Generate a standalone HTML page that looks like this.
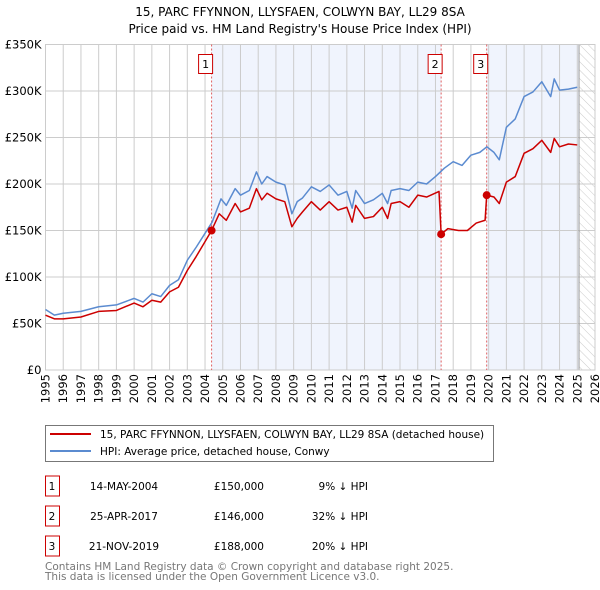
<!DOCTYPE html>
<html><head><meta charset="utf-8"><style>
body{margin:0;background:#fff;font-family:"DejaVu Sans","Liberation Sans",sans-serif;}
svg{display:block}
</style></head><body>
<svg id="c" width="600" height="590" xmlns="http://www.w3.org/2000/svg">
<defs><pattern id="hatch" width="6" height="6" patternUnits="userSpaceOnUse" patternTransform="rotate(-45)"><line x1="0" y1="0" x2="0" y2="6" stroke="#ccc" stroke-width="1"/></pattern></defs>
<text x="300" y="16" text-anchor="middle" font-size="12">15, PARC FFYNNON, LLYSFAEN, COLWYN BAY, LL29 8SA</text>
<text x="300" y="33" text-anchor="middle" font-size="12">Price paid vs. HM Land Registry's House Price Index (HPI)</text>
<g id="plot"></g>
<g>
<rect x="45.5" y="425.5" width="448" height="36" fill="#fff" stroke="#777"/>
<line x1="50" y1="434" x2="91" y2="434" stroke="#cc0000" stroke-width="2"/>
<text x="100" y="438" font-size="10.5">15, PARC FFYNNON, LLYSFAEN, COLWYN BAY, LL29 8SA (detached house)</text>
<line x1="50" y1="451" x2="91" y2="451" stroke="#5b8bd0" stroke-width="2"/>
<text x="100" y="455" font-size="10.5">HPI: Average price, detached house, Conwy</text>
</g>
<g id="tbl" font-size="10.5"></g>
<text x="45" y="570" font-size="10.5" fill="#777">Contains HM Land Registry data © Crown copyright and database right 2025.</text>
<text x="45" y="580" font-size="10.5" fill="#777">This data is licensed under the Open Government Licence v3.0.</text>
</svg>
<script>
const hpiYears=[1995,1995.5,1996,1997,1998,1999,2000,2000.5,2001,2001.5,2002,2002.5,2003,2003.5,2004,2004.4,2004.9,2005.2,2005.7,2006,2006.5,2006.9,2007.2,2007.5,2008,2008.5,2008.9,2009.2,2009.5,2010,2010.5,2011,2011.5,2012,2012.3,2012.5,2013,2013.5,2014,2014.3,2014.5,2015,2015.5,2016,2016.5,2017,2017.5,2018,2018.5,2019,2019.5,2019.9,2020.3,2020.6,2021,2021.5,2022,2022.5,2023,2023.5,2023.7,2024,2024.5,2025];
const hpiValues=[65,59,61,63,68,70,77,73,82,79,91,97,118,132,147,159,184,177,195,188,193,213,200,208,202,199,168,181,185,197,192,199,188,192,174,193,179,183,190,179,193,195,193,202,200,208,217,224,220,231,234,240,234,226,261,270,294,299,310,294,313,301,302,304];
const priceYears=[1995,1995.5,1996,1997,1998,1999,2000,2000.5,2001,2001.5,2002,2002.5,2003,2003.5,2004,2004.37,2004.8,2005.2,2005.7,2006,2006.5,2006.9,2007.2,2007.5,2008,2008.5,2008.9,2009.2,2009.5,2010,2010.5,2011,2011.5,2012,2012.3,2012.5,2013,2013.5,2014,2014.3,2014.5,2015,2015.5,2016,2016.5,2017.2,2017.32,2017.7,2018.3,2018.8,2019.3,2019.8,2019.89,2020.3,2020.6,2021,2021.5,2022,2022.5,2023,2023.5,2023.7,2024,2024.5,2025];
const priceValues=[59,55,55,57,63,64,72,68,75,73,84,89,107,122,138,150,168,161,179,170,174,195,183,190,184,181,154,163,170,181,172,181,172,175,159,177,163,165,175,163,179,181,175,188,186,192,146,152,150,150,158,161,188,186,179,202,208,233,238,247,234,249,240,243,242];
const saleYears=[2004.37,2017.32,2019.89];
const saleValues=[150,146,188];
const saleLabels=["1","2","3"];
const saleDates=["14-MAY-2004","25-APR-2017","21-NOV-2019"];
const salePrices=["£150,000","£146,000","£188,000"];
const saleDiffs=["9% ↓ HPI","32% ↓ HPI","20% ↓ HPI"];
const yTicks=[0,50,100,150,200,250,300,350];
const yTickLabels=["£0","£50K","£100K","£150K","£200K","£250K","£300K","£350K"];
const xTicks=[1995,1996,1997,1998,1999,2000,2001,2002,2003,2004,2005,2006,2007,2008,2009,2010,2011,2012,2013,2014,2015,2016,2017,2018,2019,2020,2021,2022,2023,2024,2025,2026];
const dataEnd=2025.1;

const L=45.5,R=595,T=44.5,B=370;
const X=y=>L+(y-1995)/(2026-1995)*(R-L);
const Y=v=>B-v/350*(B-T);
const NS="http://www.w3.org/2000/svg";
const g=document.getElementById('plot');
function mk(tag,attrs,parent){const e=document.createElementNS(NS,tag);for(const k in attrs)e.setAttribute(k,attrs[k]);(parent||g).appendChild(e);return e;}

let e=mk('rect',{x:L,y:T,width:R-L,height:B-T,fill:'#fff'});


e=mk('rect',{x:X(saleYears[0]),y:T,width:X(saleYears[1])-X(saleYears[0]),height:B-T,fill:'#f0f4fd'});


e=mk('rect',{x:X(saleYears[2]),y:T,width:X(dataEnd)-X(saleYears[2]),height:B-T,fill:'#f0f4fd'});


e=mk('rect',{x:X(dataEnd),y:T,width:R-X(dataEnd),height:B-T,fill:'url(#hatch)'});



yTicks.forEach((v,i)=>{
 let l=mk('line',{x1:L,x2:R,y1:Y(v),y2:Y(v),stroke:'#ccc','stroke-width':1});
 
 
 let t=mk('text',{x:L-4,y:Y(v)+4,'text-anchor':'end','font-size':'11.5'});
 t.textContent=yTickLabels[i];
 
 
});
xTicks.forEach(yr=>{
 let l=mk('line',{x1:X(yr),x2:X(yr),y1:T,y2:B,stroke:'#ccc','stroke-width':1});
 
 
 let t=mk('text',{x:0,y:0,'font-size':'11.5','text-anchor':'end',transform:`translate(${X(yr)+4},${B+4}) rotate(-90)`});
 t.textContent=yr;
 
 
});
e=mk('line',{x1:X(dataEnd),x2:X(dataEnd),y1:T,y2:B,stroke:'#999','stroke-width':1});


e=mk('rect',{x:L,y:T,width:R-L,height:B-T,fill:'none',stroke:'#ccc'});



saleYears.forEach((yr,i)=>{
 let l=mk('line',{x1:X(yr),x2:X(yr),y1:T,y2:B,stroke:'#e06060','stroke-width':1,'stroke-dasharray':'2,2'});
 
 
 let r=mk('rect',{x:X(yr)-13,y:54.5,width:14,height:19,fill:'#fff',stroke:'#cc0000'});
 
 
 let t=mk('text',{x:X(yr)-6,y:68,'text-anchor':'middle','font-size':'11'});
 t.textContent=saleLabels[i];
 
 
});

e=mk('polyline',{points:hpiYears.map((y,i)=>X(y)+','+Y(hpiValues[i])).join(' '),fill:'none',stroke:'#5b8bd0','stroke-width':1.5,'stroke-linejoin':'round'});


e=mk('polyline',{points:priceYears.map((y,i)=>X(y)+','+Y(priceValues[i])).join(' '),fill:'none',stroke:'#cc0000','stroke-width':1.5,'stroke-linejoin':'round'});


saleYears.forEach((yr,i)=>{
 let c=mk('circle',{cx:X(yr),cy:Y(saleValues[i]),r:4,fill:'#cc0000'});
 
 
});

const tb=document.getElementById('tbl');
saleLabels.forEach((lab,i)=>{
 const cy=483+i*30;
 let r=mk('rect',{x:45.5,y:cy-7,width:14,height:20,fill:'#fff',stroke:'#cc0000'},tb);
 
 
 const cells=[[52,'middle',lab],[124,'middle',saleDates[i]],[264,'end',salePrices[i]],[368,'end',saleDiffs[i]]];
 cells.forEach(([x,a,s],j)=>{
  let t=mk('text',{x:x,y:cy+7,'text-anchor':a},tb);
  t.textContent=s;
  
  
 });
});
</script>
</body></html>
